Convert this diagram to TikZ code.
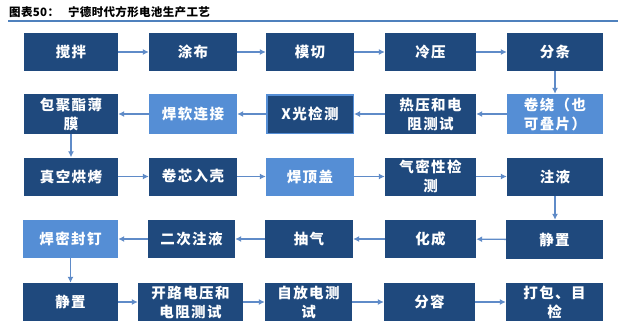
\documentclass[tikz,border=0pt]{standalone}
\usepackage{fontspec}
\usetikzlibrary{arrows.meta}
\newfontfamily\cjk[LetterSpace=10]{Noto Sans CJK SC}
\newfontfamily\cjktitle[LetterSpace=3]{Noto Sans CJK SC}
\definecolor{navy}{HTML}{1F497D}
\definecolor{lightb}{HTML}{558ED5}
\definecolor{arrowc}{HTML}{5F8BC8}
\definecolor{rulec}{HTML}{4F81BD}
\tikzset{
  box/.style={fill=navy, text=white, inner sep=0pt, align=center,
    font=\cjk\bfseries\fontsize{14.5}{19}\selectfont, anchor=center},
  lbox/.style={box, fill=lightb},
  xbox/.style={box, draw=lightb, line width=1.5pt},
  arr/.style={arrowc, line width=1.4pt, -{Latex[length=6pt,width=6pt]}},
}
\begin{document}
\begin{tikzpicture}[x=1pt,y=-1pt]
\useasboundingbox (0,0) rectangle (640,332);
\fill[white] (0,0) rectangle (640,332);
% title
\node[anchor=west, inner sep=0pt, font=\cjktitle\bfseries\fontsize{11.5}{13}\selectfont] (title) at (9,12) {图表50：\hspace{9pt}宁德时代方形电池生产工艺};
\draw[rulec, line width=1.3pt] (8,21) -- (618,21);
% row 1
\node[box, minimum width=94pt, minimum height=38pt] (a1) at (71,52) {搅拌};
\node[box, minimum width=88pt, minimum height=38pt] (a2) at (193,52) {涂布};
\node[box, minimum width=88pt, minimum height=38pt] (a3) at (310,52) {模切};
\node[box, minimum width=91pt, minimum height=38pt] (a4) at (430.5,52) {冷压};
\node[box, minimum width=96pt, minimum height=38pt] (a5) at (555,52) {分条};
% row 2
\node[box, minimum width=94pt, minimum height=40pt] (b1) at (71,114) {包聚酯薄\\膜};
\node[lbox, minimum width=88pt, minimum height=40pt] (b2) at (193,114) {焊软连接};
\node[xbox, minimum width=86.5pt, minimum height=38.5pt] (b3) at (310,114) {X光检测};
\node[box, minimum width=91pt, minimum height=40pt] (b4) at (430.5,114) {热压和电\\阻测试};
\node[lbox, minimum width=96pt, minimum height=40pt] (b5) at (555,114) {卷绕（也\\可叠片）};
% row 3
\node[box, minimum width=94pt, minimum height=38pt] (c1) at (71,176.5) {真空烘烤};
\node[box, minimum width=88pt, minimum height=38pt] (c2) at (193,176.5) {卷芯入壳};
\node[lbox, minimum width=88pt, minimum height=38pt] (c3) at (310,176.5) {焊顶盖};
\node[box, minimum width=91pt, minimum height=38pt] (c4) at (430.5,176.5) {气密性检\\测};
\node[box, minimum width=96pt, minimum height=38pt] (c5) at (555,176.5) {注液};
% row 4
\node[lbox, minimum width=95pt, minimum height=38pt] (d1) at (70.5,239) {焊密封钉};
\node[box, minimum width=87pt, minimum height=38pt] (d2) at (191.5,239) {二次注液};
\node[box, minimum width=88pt, minimum height=38pt] (d3) at (309,239) {抽气};
\node[box, minimum width=91pt, minimum height=38pt] (d4) at (430.5,239) {化成};
\node[box, minimum width=97pt, minimum height=39pt] (d5) at (554.5,239.5) {静置};
% row 5
\node[box, minimum width=95pt, minimum height=38pt] (e1) at (70.5,302) {静置};
\node[box, minimum width=105pt, minimum height=38pt] (e2) at (190.5,302) {开路电压和\\电阻测试};
\node[box, minimum width=87pt, minimum height=38pt] (e3) at (308.5,302) {自放电测\\试};
\node[box, minimum width=91pt, minimum height=38pt] (e4) at (429.5,302) {分容};
\node[box, minimum width=97pt, minimum height=38pt] (e5) at (554.5,302) {打包、目\\检};
% arrows
\draw[arr] (a1) -- (a2);
\draw[arr] (a2) -- (a3);
\draw[arr] (a3) -- (a4);
\draw[arr] (a4) -- (a5);
\draw[arr] (a5) -- (b5);
\draw[arr] (b5) -- (b4);
\draw[arr] (b4) -- (b3);
\draw[arr] (b3) -- (b2);
\draw[arr] (b2) -- (b1);
\draw[arr] (b1) -- (c1);
\draw[arr] (c1) -- (c2);
\draw[arr] (c2) -- (c3);
\draw[arr] (c3) -- (c4);
\draw[arr] (c4) -- (c5);
\draw[arr] (c5) -- (c5 |- d5.north);
\draw[arr] (d5) -- (d4);
\draw[arr] (d4) -- (d3);
\draw[arr] (d3) -- (d2);
\draw[arr] (d2) -- (d1);
\draw[arr] (d1) -- (d1 |- e1.north);
\draw[arr] (e1) -- (e2);
\draw[arr] (e2) -- (e3);
\draw[arr] (e3) -- (e4);
\draw[arr] (e4) -- (e5);
\end{tikzpicture}
\end{document}
